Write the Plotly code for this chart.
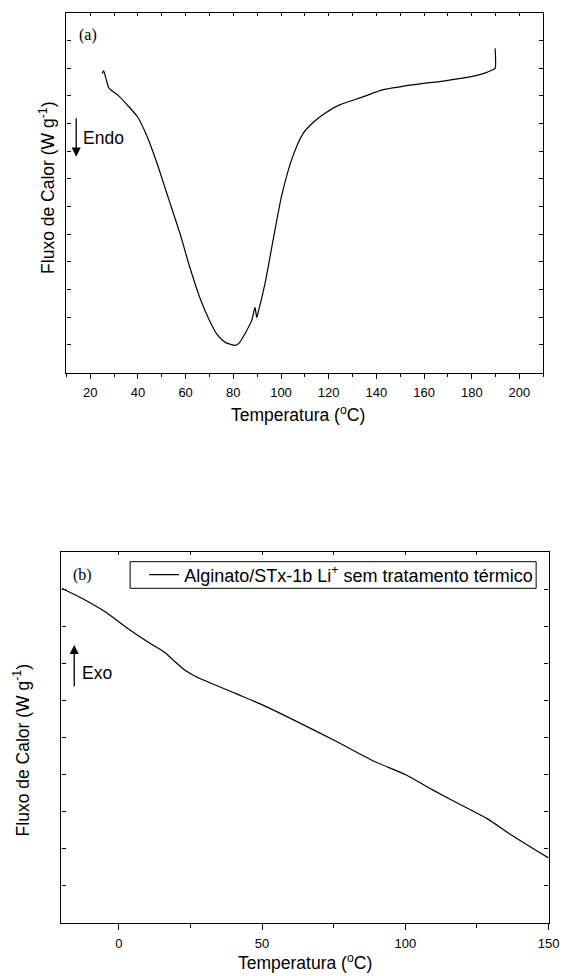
import plotly.graph_objects as go

# ---- data: panel (a) DSC curve, endothermic ----
temp_a = [25.0, 25.6, 26.1, 27.7, 28.8, 31.5, 35.6, 39.8, 43.9, 48.0, 52.8, 57.6, 61.7,
          65.8, 69.9, 73.4, 76.8, 80.9, 82.3, 85.0, 87.8, 89.1, 89.8, 90.5, 93.3, 96.7,
          100.3, 104.9, 109.3, 113.8, 118.3, 124.3, 134.4, 142.6, 155.0, 168.7, 179.7,
          185.1, 188.6, 189.8, 189.8]
flux_a = [10.80, 10.90, 10.78, 10.30, 10.20, 10.03, 9.66, 9.24, 8.52, 7.56, 6.29, 5.03, 3.82,
          2.74, 1.90, 1.35, 1.08, 0.98, 1.05, 1.42, 1.90, 2.35, 1.99, 2.20, 3.22, 4.79,
          6.40, 7.80, 8.64, 9.06, 9.36, 9.66, 9.96, 10.21, 10.39, 10.54, 10.69,
          10.81, 10.93, 10.99, 11.71]

# ---- data: panel (b) ----
temp_b = [-20, -12.9, -4.9, 3.05, 9.9, 16.2, 19.0, 23.0, 27.0, 40.7, 50.1, 75.0, 89.3,
          100.0, 109.2, 119.5, 128.6, 136.6, 150]
flux_b = [9.03, 8.76, 8.40, 7.95, 7.59, 7.29, 7.09, 6.82, 6.64, 6.19, 5.88, 4.93, 4.35,
          4.00, 3.60, 3.18, 2.81, 2.39, 1.75]
legend_b = "Alginato/STx-1b Li<sup>+</sup> sem tratamento térmico"

W, H = 570, 976
SANS = "Liberation Sans, Arial, sans-serif"
SERIF = "Liberation Serif, Times New Roman, serif"

def px(x):
    return x / W

def py(y):
    return 1 - y / H

fig = go.Figure()
fig.add_trace(go.Scatter(x=temp_a, y=flux_a, mode="lines", xaxis="x", yaxis="y",
                         line=dict(color="black", width=1.2, shape="spline", smoothing=0.6),
                         showlegend=False))
fig.add_trace(go.Scatter(x=temp_b, y=flux_b, mode="lines", xaxis="x2", yaxis="y2",
                         line=dict(color="black", width=1.2, shape="spline", smoothing=0.6),
                         name=legend_b, showlegend=True))
# empty traces so the top tick axes are drawn
fig.add_trace(go.Scatter(x=[], y=[], xaxis="x3", yaxis="y", showlegend=False))
fig.add_trace(go.Scatter(x=[], y=[], xaxis="x4", yaxis="y2", showlegend=False))

axline = dict(showline=True, linecolor="black", linewidth=1.3, showgrid=False, zeroline=False)

fig.update_layout(
    width=W, height=H, margin=dict(l=0, r=0, t=0, b=0),
    paper_bgcolor="white", plot_bgcolor="white",
    font=dict(family=SANS, color="black", size=13),
    xaxis=dict(domain=[px(67.7), px(554)], range=[10, 210], anchor="y",
               tickmode="linear", tick0=20, dtick=20, ticks="outside", ticklen=5,
               tickwidth=1, tickcolor="black", mirror=True, ticklabelstandoff=3,
               minor=dict(dtick=10, tick0=10, ticks="outside", ticklen=3.5, tickcolor="black"),
               tickfont=dict(size=13), **axline),
    yaxis=dict(domain=[py(372.5), py(12.7)], range=[0, 13], anchor="x",
               tickmode="linear", tick0=0, dtick=1, ticks="inside", ticklen=4,
               tickwidth=1, tickcolor="black", mirror="ticks", showticklabels=False, **axline),
    xaxis3=dict(overlaying="x", side="top", anchor="y", range=[10, 210],
                tickmode="linear", tick0=10, dtick=10, ticks="inside", ticklen=3,
                tickwidth=1, tickcolor="black", showticklabels=False, showline=False,
                showgrid=False, zeroline=False),
    xaxis2=dict(domain=[px(62.7), px(559.3)], range=[-20, 150], anchor="y2",
                tickmode="linear", tick0=0, dtick=50, ticks="outside", ticklen=6,
                tickwidth=1, tickcolor="black", mirror=True, ticklabelstandoff=3,
                ticklabeloverflow="allow",
                minor=dict(dtick=25, tick0=0, ticks="outside", ticklen=4, tickcolor="black"),
                tickfont=dict(size=13), **axline),
    yaxis2=dict(domain=[py(922.7), py(552.3)], range=[0, 10], anchor="x2",
                tickmode="linear", tick0=0, dtick=1, ticks="inside", ticklen=4,
                tickwidth=1, tickcolor="black", mirror="ticks", showticklabels=False, **axline),
    xaxis4=dict(overlaying="x2", side="top", anchor="y2", range=[-20, 150],
                tickmode="linear", tick0=0, dtick=25, ticks="inside", ticklen=3,
                tickwidth=1, tickcolor="black", showticklabels=False, showline=False,
                showgrid=False, zeroline=False),
    legend=dict(x=px(147), xanchor="left", y=py(575), yanchor="middle",
                borderwidth=0, bgcolor="rgba(0,0,0,0)",
                font=dict(family=SANS, size=18, color="black"),
                tracegroupgap=0, itemwidth=30),
    shapes=[dict(type="rect", xref="paper", yref="paper",
                 x0=px(132.7), x1=px(546.7), y0=py(588.3), y1=py(561.7),
                 line=dict(color="black", width=1), fillcolor="rgba(0,0,0,0)", layer="above")],
)

ann = []
# axis titles
ann.append(dict(text="Fluxo de Calor (W g<sup>-1</sup>)", x=px(47.3), y=py(187.5),
                textangle=-90, font=dict(size=17.5)))
ann.append(dict(text="Temperatura (<sup>o</sup>C)", x=px(304), y=py(414), font=dict(size=17.5)))
ann.append(dict(text="Fluxo de Calor (W g<sup>-1</sup>)", x=px(21.8), y=py(750),
                textangle=-90, font=dict(size=17.5)))
ann.append(dict(text="Temperatura (<sup>o</sup>C)", x=px(311), y=py(961.7), font=dict(size=17.5)))
# panel labels
ann.append(dict(text="(a)", x=px(78.5), y=py(35), xanchor="left", font=dict(family=SERIF, size=16)))
ann.append(dict(text="(b)", x=px(72.2), y=py(575), xanchor="left", font=dict(family=SERIF, size=16)))
# Endo / Exo
ann.append(dict(text="Endo", x=px(82.7), y=py(138.3), xanchor="left", font=dict(size=17.5)))
ann.append(dict(text="Exo", x=px(81.7), y=py(673.3), xanchor="left", font=dict(size=17.5)))
ann.append(dict(text="", x=px(77.7), y=py(156.7), ax=0, ay=-40, showarrow=True,
                arrowhead=2, arrowsize=1.4, arrowwidth=1.3, arrowcolor="black"))
ann.append(dict(text="", x=px(75.7), y=py(645), ax=0, ay=43, showarrow=True,
                arrowhead=2, arrowsize=1.4, arrowwidth=1.3, arrowcolor="black"))

for a in ann:
    a.setdefault("xref", "paper")
    a.setdefault("yref", "paper")
    a.setdefault("showarrow", False)
    a.setdefault("yanchor", "middle")
    a.setdefault("xanchor", "center")
    f = a.setdefault("font", {})
    f.setdefault("family", SANS)
    f.setdefault("color", "black")
fig.update_layout(annotations=ann)

fig.write_html("out.html")
